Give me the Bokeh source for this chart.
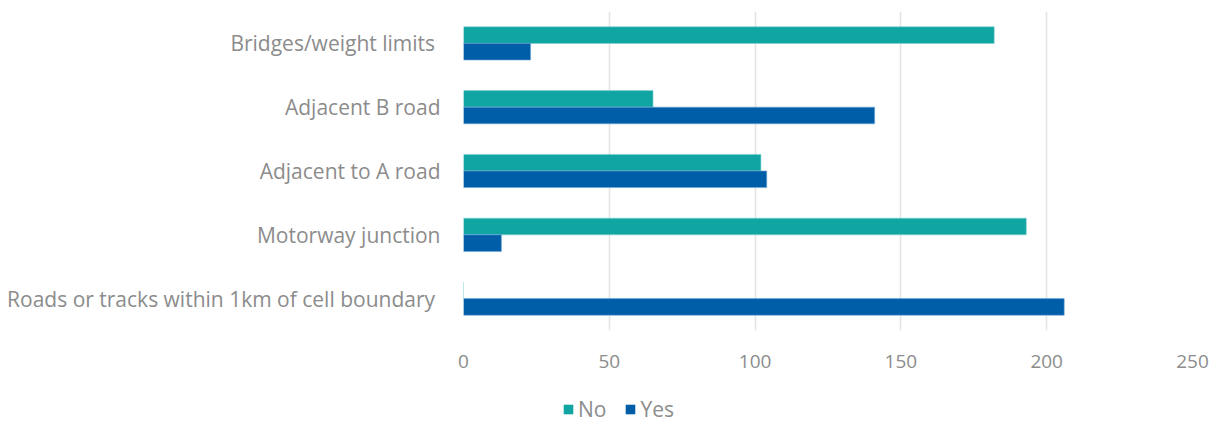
from bokeh.plotting import figure
from bokeh.layouts import column
from bokeh.models import FactorRange, ColumnDataSource, Legend, LegendItem, FixedTicker, Range1d
from bokeh.transform import dodge
from bokeh.embed import file_html
from bokeh.resources import INLINE

categories = ["Bridges/weight limits ", "Adjacent B road", "Adjacent to A road",
              "Motorway junction", "Roads or tracks within 1km of cell boundary "]
no_values = [182, 65, 102, 193, 0]
yes_values = [23, 141, 104, 13, 206]
x_ticks = [0, 50, 100, 150, 200, 250]
series_names = ["No", "Yes"]

TEAL = "#10A4A2"
BLUE = "#005EA9"
GRAY = "#8c8c8c"
FONT = "Open Sans"

src = ColumnDataSource(dict(cat=categories, no=no_values, yes=yes_values))

p = figure(width=1220, height=383, output_backend="svg", toolbar_location=None,
           y_range=FactorRange(*reversed(categories), range_padding=0),
           x_range=Range1d(0, 250),
           min_border_left=463, min_border_right=28, min_border_top=11, min_border_bottom=53)

p.hbar(y=dodge("cat", 0.13, range=p.y_range), right="no", height=0.261, left=0,
       source=src, fill_color=TEAL, line_color="#7fd3d1", line_width=0.6)
p.hbar(y=dodge("cat", -0.13, range=p.y_range), right="yes", height=0.261, left=0,
       source=src, fill_color=BLUE, line_color="#6fa6d6", line_width=0.6)

p.outline_line_color = None
p.background_fill_color = "white"
p.border_fill_color = "white"

p.xaxis.ticker = FixedTicker(ticks=x_ticks)
p.xaxis.axis_line_color = None
p.xaxis.major_tick_line_color = None
p.xaxis.minor_tick_line_color = None
p.xaxis.major_label_text_font = FONT
p.xaxis.major_label_text_font_size = "19px"
p.xaxis.major_label_text_color = GRAY
p.xaxis.major_label_standoff = 18

p.yaxis.axis_line_color = None
p.yaxis.major_tick_line_color = None
p.yaxis.major_label_text_font = FONT
p.yaxis.major_label_text_font_size = "21px"
p.yaxis.major_label_text_color = GRAY
p.yaxis.major_label_standoff = 17

p.xgrid.grid_line_color = "#e3e3e3"
p.xgrid.grid_line_width = 1.5
p.ygrid.grid_line_color = None

# legend strip below the chart (zero-height copies of the series carry the legend glyphs)
q = figure(width=1220, height=40, output_backend="svg", toolbar_location=None,
           y_range=FactorRange(*reversed(categories)), x_range=Range1d(0, 250),
           min_border=0, min_border_left=0, min_border_right=0, min_border_top=0, min_border_bottom=0)
q.axis.visible = False
q.grid.visible = False
q.outline_line_color = None
q.border_fill_color = "white"
l_no = q.hbar(y="cat", right="no", height=0, left=0, source=src, fill_color=TEAL, line_color=None)
l_yes = q.hbar(y="cat", right="yes", height=0, left=0, source=src, fill_color=BLUE, line_color=None)

legend = Legend(items=[LegendItem(label=series_names[0], renderers=[l_no]),
                       LegendItem(label=series_names[1], renderers=[l_yes])],
                orientation="horizontal", location=(99, 0),
                glyph_width=12, glyph_height=12, label_standoff=4, spacing=18,
                padding=0, margin=0, border_line_color=None, background_fill_alpha=0,
                label_text_font=FONT, label_text_font_size="21px", label_text_color=GRAY)
q.add_layout(legend, "center")

open("out.html", "w").write(file_html(column(p, q, spacing=0), INLINE))
